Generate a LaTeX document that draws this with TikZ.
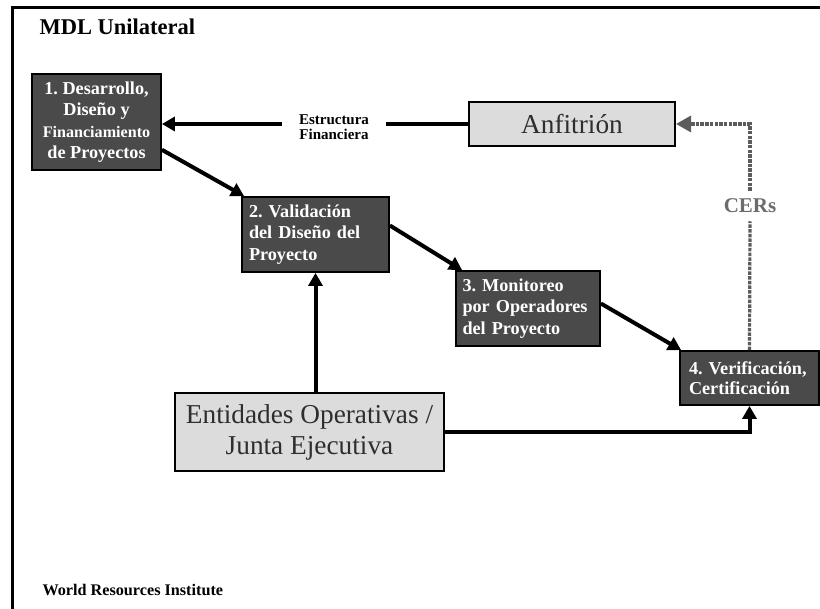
\documentclass[tikz,border=0pt]{standalone}
\usepackage{fontspec}
\setmainfont{Liberation Serif}
\usetikzlibrary{arrows.meta,calc}
\definecolor{boxdark}{HTML}{4A4A4A}
\definecolor{boxlight}{HTML}{DCDCDC}
\definecolor{dotgray}{HTML}{5C5C5C}
\begin{document}
\frenchspacing
\begin{tikzpicture}[x=1pt,y=-1pt,
  darkbox/.style={draw=black,line width=1.8pt,fill=boxdark,text=white,inner sep=0pt,
    font=\fontsize{18.2}{21.5}\selectfont\bfseries},
  lightbox/.style={draw=black,line width=2pt,fill=boxlight,text=black!82,inner sep=0pt,
    font=\fontsize{27.3}{31}\selectfont, align=center},
  arr/.style={line width=4pt,-{Triangle[length=13pt,width=14pt]}},
  plain/.style={line width=4pt},
  dotline/.style={draw=dotgray,line width=3.2pt,dash pattern=on 3.5pt off 1.2pt},
  dotarr/.style={dotline,-{Triangle[length=15pt,width=16pt]}}
]
\useasboundingbox (0,0) rectangle (820,609);
\fill[white] (0,0) rectangle (820,609);
\draw[line width=3pt] (12,609) -- (12,8) -- (820,8);

\node[anchor=base west,font=\fontsize{22.5}{26}\selectfont\bfseries] (title) at (36,35) {MDL Unilateral};

\node[darkbox,minimum width=129pt,minimum height=96pt,align=center] (b1) at (96.5,122)
  {1. Desarrollo,\\Diseño y\\{\fontsize{16.1}{21.5}\selectfont Financiamiento}\\de Proyectos};
\node[darkbox,minimum width=147pt,minimum height=75pt,text width=133pt,align=left] (b2) at (315.5,234.5)
  {2. Validación\\del Diseño del\\Proyecto};
\node[darkbox,minimum width=144pt,minimum height=75pt,text width=131pt,align=left] (b3) at (528,308.5)
  {3. Monitoreo\\por Operadores\\del Proyecto};
\node[darkbox,minimum width=139pt,minimum height=54pt,text width=121pt,align=left,
  font=\fontsize{18.2}{20.5}\selectfont\bfseries] (b4) at (749.5,378)
  {4. Verificación,\\Certificación};

\node[lightbox,minimum width=206pt,minimum height=44pt] (anf) at (572,124) {Anfitrión};
\node[lightbox,minimum width=269pt,minimum height=78pt] (ent) at (309.5,432)
  {Entidades Operativas /\\Junta Ejecutiva};

\node[font=\fontsize{15}{15}\selectfont\bfseries,align=center,inner xsep=17pt,inner ysep=0pt] (est) at (334,127)
  {Estructura\\Financiera};
\node[font=\fontsize{21}{24}\selectfont\bfseries,text=dotgray!90,inner xsep=0pt,inner ysep=8pt] (cers) at (750,206) {CERs};

\node[anchor=base west,font=\fontsize{16.2}{18}\selectfont\bfseries] (wri) at (39,595) {World Resources Institute};

% connectors
\draw[plain] (anf.west) -- (anf.west -| est.east);
\draw[arr] (anf.west -| est.west) -- (anf.west -| b1.east);
\draw[arr] (b1.-23) -- ($(b2.north west)+(3,0)$);
\draw[arr] ($(b2.east)+(0,-9)$) -- ($(b3.north west)+(7,0)$);
\draw[arr] ($(b3.east)+(0,-5)$) -- ($(b4.north west)+(2,0)$);
\draw[arr] (b2.south |- ent.north) -- (b2.south);
\draw[arr] (ent.east) -| (b4.south);
\draw[dotline] (b4.north) -- (cers.south);
\draw[dotarr] (cers.north) |- (anf.east);
\end{tikzpicture}
\end{document}
